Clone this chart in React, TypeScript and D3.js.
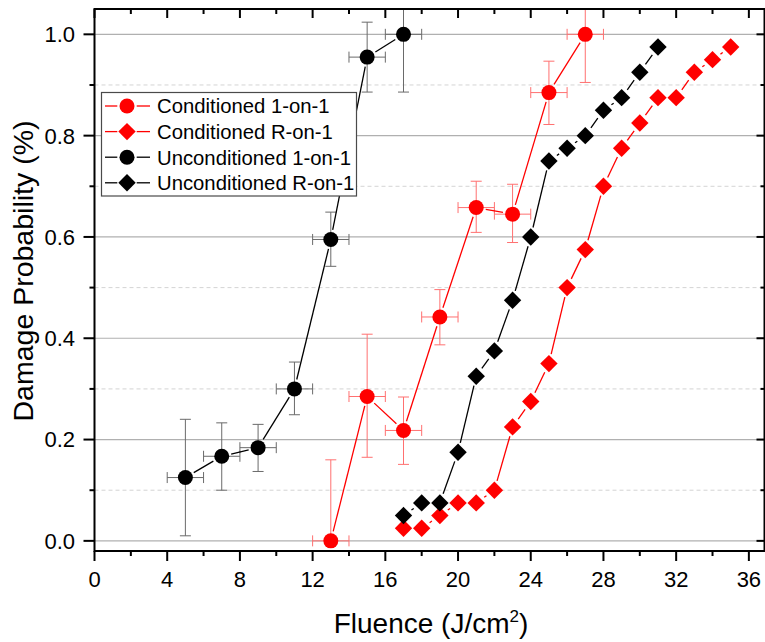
import React, { useRef, useEffect } from 'react';
import * as d3 from 'd3';

// chart values
const xMajorTicks = [0, 4, 8, 12, 16, 20, 24, 28, 32, 36];
const xMinorTicks = [2, 6, 10, 14, 18, 22, 26, 30, 34];
const yMajorTicks = [0, 0.2, 0.4, 0.6, 0.8, 1.0];
const yMinorTicks = [0.1, 0.3, 0.5, 0.7, 0.9];

// Conditioned 1-on-1 (red circles, error bars)
const cond1X = [13, 15, 17, 19, 21, 23, 25, 27];
const cond1Y = [0, 0.285, 0.218, 0.442, 0.658, 0.645, 0.885, 1.0];
const cond1Lo = [0, 0.165, 0.151, 0.387, 0.609, 0.589, 0.822, 0.905];
const cond1Hi = [0.16, 0.408, 0.284, 0.496, 0.71, 0.704, 0.947, 1.095];
const cond1Xerr = [1, 1, 1, 1, 1, 1, 1, 1];

// Conditioned R-on-1 (red diamonds)
const condRX = [17, 18, 19, 20, 21, 22, 23, 24, 25, 26, 27, 28, 29, 30, 31, 32, 33, 34, 35];
const condRY = [0.025, 0.025, 0.05, 0.075, 0.075, 0.1, 0.225, 0.275, 0.35, 0.5, 0.575, 0.7, 0.775, 0.825, 0.875, 0.875, 0.925, 0.95, 0.975];

// Unconditioned 1-on-1 (black circles, error bars)
const uncond1X = [5, 7, 9, 11, 13, 15, 17];
const uncond1Y = [0.125, 0.167, 0.184, 0.3, 0.595, 0.955, 1.0];
const uncond1Lo = [0.01, 0.1, 0.137, 0.249, 0.542, 0.886, 0.886];
const uncond1Hi = [0.24, 0.233, 0.23, 0.353, 0.649, 1.024, 1.114];
const uncond1Xerr = [1, 1, 1, 1, 1, 1, 1];

// Unconditioned R-on-1 (black diamonds)
const uncondRX = [17, 18, 19, 20, 21, 22, 23, 24, 25, 26, 27, 28, 29, 30, 31];
const uncondRY = [0.05, 0.075, 0.075, 0.175, 0.325, 0.375, 0.475, 0.6, 0.75, 0.775, 0.8, 0.85, 0.875, 0.925, 0.975];

const legendNames = ['Conditioned 1-on-1', 'Conditioned R-on-1', 'Unconditioned 1-on-1', 'Unconditioned R-on-1'];

const W = 765;
const H = 642;
const FONT = "'Liberation Sans', Arial, sans-serif";
const plot = { left: 94.5, right: 764.5, top: 9, bottom: 551 };
const R = 7.5; // marker size
const GAP = 2.2;

function App() {
    const svgRef = useRef(null);

    useEffect(() => {
        const svg = d3.select(svgRef.current);
        svg.selectAll('*').remove();

        const x = d3.scaleLinear().domain([0, 36.86]).range([plot.left, plot.right]);
        const y = d3.scaleLinear().domain([-0.02, 1.05]).range([plot.bottom, plot.top]);

        svg.append('defs').append('clipPath').attr('id', 'clip')
            .append('rect')
            .attr('x', plot.left).attr('y', plot.top)
            .attr('width', plot.right - plot.left).attr('height', plot.bottom - plot.top);

        // grid
        const grid = svg.append('g');
        grid.selectAll('line.minor').data(yMinorTicks).join('line')
            .attr('x1', plot.left).attr('x2', plot.right)
            .attr('y1', d => y(d)).attr('y2', d => y(d))
            .attr('stroke', '#d4d4d4').attr('stroke-width', 1).attr('stroke-dasharray', '4,3');
        grid.selectAll('line.major').data(yMajorTicks).join('line')
            .attr('x1', plot.left).attr('x2', plot.right)
            .attr('y1', d => y(d)).attr('y2', d => y(d))
            .attr('stroke', '#b0b0b0').attr('stroke-width', 1.2);

        const series = [
            { xs: cond1X, ys: cond1Y, color: '#ff0000', errColor: '#ff7070', shape: 'circle', lo: cond1Lo, hi: cond1Hi, xe: cond1Xerr },
            { xs: condRX, ys: condRY, color: '#ff0000', shape: 'diamond' },
            { xs: uncond1X, ys: uncond1Y, color: '#000000', errColor: '#6a6a6a', shape: 'circle', lo: uncond1Lo, hi: uncond1Hi, xe: uncond1Xerr },
            { xs: uncondRX, ys: uncondRY, color: '#000000', shape: 'diamond' },
        ];

        const body = svg.append('g').attr('clip-path', 'url(#clip)');

        // error bars
        series.forEach(s => {
            if (!s.lo) return;
            const g = body.append('g').attr('stroke', s.errColor).attr('stroke-width', 1).attr('fill', 'none');
            const cap = 5.5;
            s.xs.forEach((xv, i) => {
                const cx = x(xv), cy = y(s.ys[i]);
                const yt = y(s.hi[i]), yb = y(s.lo[i]);
                g.append('line').attr('x1', cx).attr('x2', cx).attr('y1', yt).attr('y2', yb);
                g.append('line').attr('x1', cx - cap).attr('x2', cx + cap).attr('y1', yt).attr('y2', yt);
                if (s.lo[i] < s.ys[i]) g.append('line').attr('x1', cx - cap).attr('x2', cx + cap).attr('y1', yb).attr('y2', yb);
                const xl = x(xv - s.xe[i]), xr = x(xv + s.xe[i]);
                g.append('line').attr('x1', xl).attr('x2', xr).attr('y1', cy).attr('y2', cy);
                g.append('line').attr('x1', xl).attr('x2', xl).attr('y1', cy - cap).attr('y2', cy + cap);
                g.append('line').attr('x1', xr).attr('x2', xr).attr('y1', cy - cap).attr('y2', cy + cap);
            });
        });

        // connecting lines, trimmed near the symbols
        series.forEach(s => {
            const g = body.append('g').attr('stroke', s.color).attr('stroke-width', 1.3);
            for (let i = 0; i < s.xs.length - 1; i++) {
                const x1 = x(s.xs[i]), y1 = y(s.ys[i]);
                const x2 = x(s.xs[i + 1]), y2 = y(s.ys[i + 1]);
                const len = Math.hypot(x2 - x1, y2 - y1);
                const t = R + GAP;
                if (len <= 2 * t) continue;
                const ux = (x2 - x1) / len, uy = (y2 - y1) / len;
                g.append('line')
                    .attr('x1', x1 + ux * t).attr('y1', y1 + uy * t)
                    .attr('x2', x2 - ux * t).attr('y2', y2 - uy * t);
            }
        });

        const drawMarker = (g, shape, cx, cy, color) => {
            if (shape === 'circle') {
                g.append('circle').attr('cx', cx).attr('cy', cy).attr('r', R).attr('fill', color);
            } else {
                const d = R + 1.2;
                g.append('path')
                    .attr('d', `M${cx},${cy - d}L${cx + d},${cy}L${cx},${cy + d}L${cx - d},${cy}Z`)
                    .attr('fill', color);
            }
        };

        series.forEach(s => {
            const g = body.append('g');
            s.xs.forEach((xv, i) => drawMarker(g, s.shape, x(xv), y(s.ys[i]), s.color));
        });

        // frame
        svg.append('rect')
            .attr('x', plot.left).attr('y', plot.top)
            .attr('width', plot.right - plot.left).attr('height', plot.bottom - plot.top)
            .attr('fill', 'none').attr('stroke', '#000').attr('stroke-width', 2);

        const ticks = svg.append('g').attr('stroke', '#000').attr('stroke-width', 2);
        // bottom (out) + top (in)
        xMajorTicks.forEach(v => {
            ticks.append('line').attr('x1', x(v)).attr('x2', x(v)).attr('y1', plot.bottom).attr('y2', plot.bottom + 10);
            ticks.append('line').attr('x1', x(v)).attr('x2', x(v)).attr('y1', plot.top).attr('y2', plot.top + 9);
        });
        xMinorTicks.forEach(v => {
            ticks.append('line').attr('x1', x(v)).attr('x2', x(v)).attr('y1', plot.bottom).attr('y2', plot.bottom + 5);
            ticks.append('line').attr('x1', x(v)).attr('x2', x(v)).attr('y1', plot.top).attr('y2', plot.top + 5);
        });
        // left (out) + right (in)
        yMajorTicks.forEach(v => {
            ticks.append('line').attr('x1', plot.left - 11).attr('x2', plot.left).attr('y1', y(v)).attr('y2', y(v));
            ticks.append('line').attr('x1', plot.right - 8).attr('x2', plot.right).attr('y1', y(v)).attr('y2', y(v));
        });
        yMinorTicks.forEach(v => {
            ticks.append('line').attr('x1', plot.left - 5).attr('x2', plot.left).attr('y1', y(v)).attr('y2', y(v));
            ticks.append('line').attr('x1', plot.right - 4).attr('x2', plot.right).attr('y1', y(v)).attr('y2', y(v));
        });

        // tick labels
        svg.append('g').selectAll('text').data(xMajorTicks).join('text')
            .attr('x', d => x(d)).attr('y', 587)
            .attr('text-anchor', 'middle')
            .attr('font-family', FONT).attr('font-size', 22)
            .text(d => d);
        svg.append('g').selectAll('text').data(yMajorTicks).join('text')
            .attr('x', 75).attr('y', d => y(d)).attr('dy', '0.36em')
            .attr('text-anchor', 'end')
            .attr('font-family', FONT).attr('font-size', 22)
            .text(d => d3.format('.1f')(d));

        // axis titles
        const xt = svg.append('text')
            .attr('x', 431).attr('y', 633)
            .attr('text-anchor', 'middle')
            .attr('font-family', FONT).attr('font-size', 28);
        xt.append('tspan').text('Fluence (J/cm');
        xt.append('tspan').attr('font-size', 17).attr('dy', -11).text('2');
        xt.append('tspan').attr('dy', 11).text(')');

        svg.append('text')
            .attr('transform', 'translate(33,271) rotate(-90)')
            .attr('text-anchor', 'middle')
            .attr('font-family', FONT).attr('font-size', 28.5)
            .text('Damage Probability (%)');

        // legend
        const lg = svg.append('g');
        lg.append('rect')
            .attr('x', 101.5).attr('y', 92.5).attr('width', 255).attr('height', 103.5)
            .attr('fill', '#fff').attr('stroke', '#4a4a4a').attr('stroke-width', 1.2);
        const rowY = [106, 131.6, 157.2, 182.8];
        series.forEach((s, i) => {
            const cy = rowY[i];
            const cx = 127;
            lg.append('line').attr('x1', 105).attr('x2', cx - R - GAP).attr('y1', cy).attr('y2', cy)
                .attr('stroke', s.color).attr('stroke-width', 1.3);
            lg.append('line').attr('x1', cx + R + GAP).attr('x2', 150).attr('y1', cy).attr('y2', cy)
                .attr('stroke', s.color).attr('stroke-width', 1.3);
            drawMarker(lg, s.shape, cx, cy, s.color);
            lg.append('text')
                .attr('x', 157).attr('y', cy).attr('dy', '0.36em')
                .attr('font-family', FONT).attr('font-size', 20.3)
                .text(legendNames[i]);
        });
    }, []);

    return (
        <svg ref={svgRef} width={W} height={H}
            style={{ position: 'absolute', left: 0, top: 0, background: '#fff' }} />
    );
}

export default App;
